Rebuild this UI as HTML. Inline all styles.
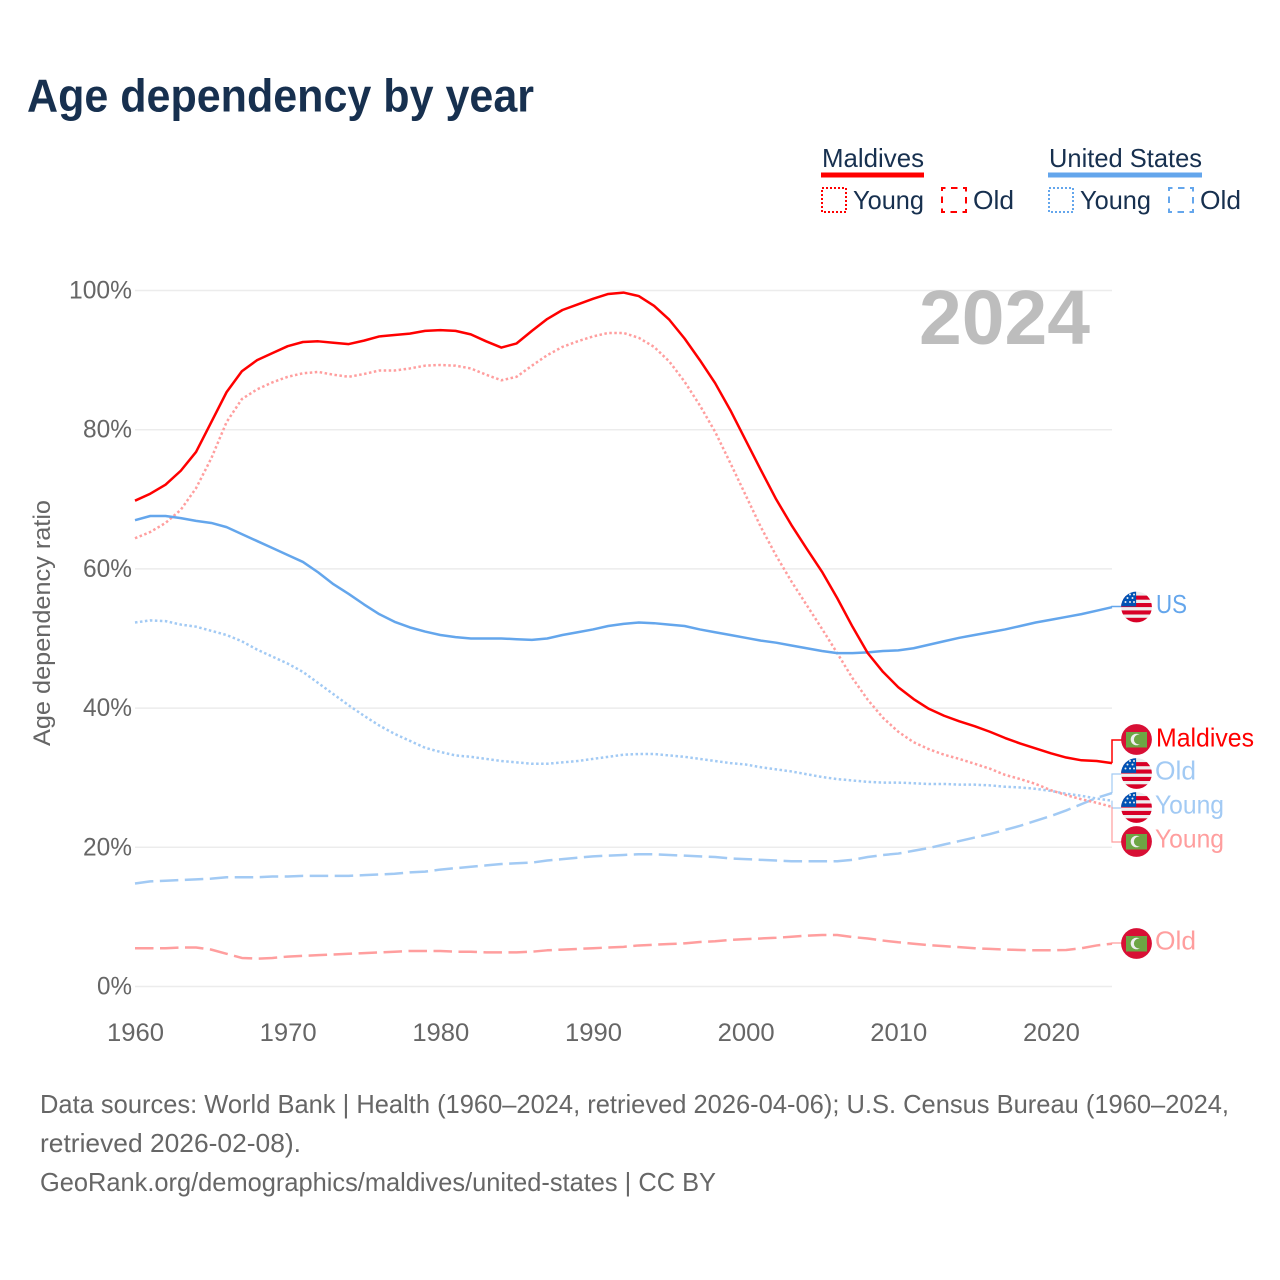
<!DOCTYPE html>
<html lang="en">
<head>
<meta charset="utf-8">
<title>Age dependency by year</title>
<style>
html,body{margin:0;padding:0;background:#fff;}
svg{display:block;font-family:"Liberation Sans",sans-serif;}
</style>
</head>
<body>
<svg id="chart" xmlns="http://www.w3.org/2000/svg" width="1280" height="1280" viewBox="0 0 1280 1280">
  <defs>
    <clipPath id="flag-clip"><circle cx="0" cy="0" r="15.4"/></clipPath>
    <g id="flag-us">
      <g clip-path="url(#flag-clip)">
        <rect x="-16" y="-16" width="32" height="32" fill="#eeeeee"/>
        <rect x="-16" y="-11.4" width="32" height="4.1" fill="#d80027"/>
        <rect x="-16" y="-4" width="32" height="4.1" fill="#d80027"/>
        <rect x="-16" y="3.4" width="32" height="4.1" fill="#d80027"/>
        <rect x="-16" y="10.8" width="32" height="4.8" fill="#d80027"/>
        <rect x="-16" y="-16" width="15.6" height="15.4" fill="#0052b4"/>
        <circle cx="-9" cy="-9" r="1" fill="#eee"/>
        <circle cx="-4" cy="-9" r="1" fill="#eee"/>
        <circle cx="-6.5" cy="-12.5" r="1" fill="#eee"/>
        <circle cx="-2.5" cy="-12.5" r="1" fill="#eee"/>
        <circle cx="-6.5" cy="-5" r="1" fill="#eee"/>
        <circle cx="-2.5" cy="-5" r="1" fill="#eee"/>
        <circle cx="-11" cy="-5" r="1" fill="#eee"/>
      </g>
    </g>
    <g id="flag-mv">
      <circle cx="0" cy="0" r="15.4" fill="#d80f35"/>
      <rect x="-10.5" y="-7.5" width="21" height="15.5" fill="#6da544"/>
      <circle cx="0" cy="0" r="5.8" fill="#eeeeee"/>
      <circle cx="2.4" cy="0" r="5" fill="#6da544"/>
    </g>
  </defs>

  <rect x="0" y="0" width="1280" height="1280" fill="#ffffff"/>

  <text x="27" y="111.5" font-size="46" font-weight="700" fill="#17304f" textLength="507" lengthAdjust="spacingAndGlyphs">Age dependency by year</text>

  <g font-size="26" fill="#17304f">
    <text x="822" y="167" textLength="102" lengthAdjust="spacingAndGlyphs">Maldives</text>
    <rect x="821" y="172.5" width="103" height="5" fill="#ff0000"/>
    <rect x="822" y="188" width="24" height="24" fill="none" stroke="#ff0000" stroke-width="2" stroke-dasharray="2 2"/>
    <text x="853" y="209" textLength="71" lengthAdjust="spacingAndGlyphs">Young</text>
    <rect x="942" y="188" width="24" height="24" fill="none" stroke="#ff0000" stroke-width="2" stroke-dasharray="6.5 5.5" stroke-dashoffset="3"/>
    <text x="973" y="209" textLength="41" lengthAdjust="spacingAndGlyphs">Old</text>

    <text x="1049" y="167" textLength="153" lengthAdjust="spacingAndGlyphs">United States</text>
    <rect x="1048" y="172.5" width="154" height="5" fill="#64a6ec"/>
    <rect x="1049" y="188" width="24" height="24" fill="none" stroke="#64a6ec" stroke-width="2" stroke-dasharray="2 2"/>
    <text x="1080" y="209" textLength="71" lengthAdjust="spacingAndGlyphs">Young</text>
    <rect x="1169" y="188" width="24" height="24" fill="none" stroke="#64a6ec" stroke-width="2" stroke-dasharray="6.5 5.5" stroke-dashoffset="3"/>
    <text x="1200" y="209" textLength="41" lengthAdjust="spacingAndGlyphs">Old</text>
  </g>

  <g id="grid"></g>
  <g id="y-ticks"></g>
  <g id="x-ticks"></g>

  <text transform="translate(50,746) rotate(-90)" font-size="24.5" fill="#666666" textLength="246" lengthAdjust="spacingAndGlyphs">Age dependency ratio</text>

  <text x="919" y="344" font-size="77" font-weight="700" fill="#bdbdbd" textLength="171" lengthAdjust="spacingAndGlyphs">2024</text>

  <g id="series"></g>
  <g id="connectors"></g>

  <g font-size="26">
    <use href="#flag-us" x="1136.5" y="607"/>
    <text x="1156" y="613" fill="#64a6ec" textLength="31" lengthAdjust="spacingAndGlyphs">US</text>
    <use href="#flag-mv" x="1136.5" y="739.5"/>
    <text x="1156" y="746.5" fill="#ff0000" textLength="98" lengthAdjust="spacingAndGlyphs">Maldives</text>
    <use href="#flag-us" x="1136.5" y="773.5"/>
    <text x="1155" y="779.5" fill="#a2caf4" textLength="41" lengthAdjust="spacingAndGlyphs">Old</text>
    <use href="#flag-us" x="1136.5" y="807.5"/>
    <text x="1155" y="813.5" fill="#a2caf4" textLength="69" lengthAdjust="spacingAndGlyphs">Young</text>
    <use href="#flag-mv" x="1136.5" y="841.5"/>
    <text x="1155" y="847.5" fill="#ff9e9e" textLength="69" lengthAdjust="spacingAndGlyphs">Young</text>
    <use href="#flag-mv" x="1136.5" y="943.5"/>
    <text x="1155" y="949.5" fill="#ff9e9e" textLength="41" lengthAdjust="spacingAndGlyphs">Old</text>
  </g>

  <g font-size="26" fill="#666666">
    <text x="40" y="1113" textLength="1189" lengthAdjust="spacingAndGlyphs">Data sources: World Bank | Health (1960–2024, retrieved 2026-04-06); U.S. Census Bureau (1960–2024,</text>
    <text x="40" y="1152" textLength="261" lengthAdjust="spacingAndGlyphs">retrieved 2026-02-08).</text>
    <text x="40" y="1191" textLength="676" lengthAdjust="spacingAndGlyphs">GeoRank.org/demographics/maldives/united-states | CC BY</text>
  </g>
</svg>

<script>
var startYear = 1960;
var endYear = 2024;
var yTickValues = [0, 20, 40, 60, 80, 100];
var xTickValues = [1960, 1970, 1980, 1990, 2000, 2010, 2020];

var maldivesTotal = [69.8,70.8,72.1,74.1,76.8,81.1,85.4,88.4,90.0,91.0,92.0,92.6,92.7,92.5,92.3,92.8,93.4,93.6,93.8,94.2,94.3,94.2,93.7,92.7,91.8,92.4,94.2,95.9,97.2,98.0,98.8,99.5,99.7,99.2,97.8,95.8,93.1,90.0,86.7,82.8,78.5,74.2,70.0,66.3,62.9,59.6,55.8,51.7,47.9,45.2,43.0,41.3,39.9,38.9,38.1,37.4,36.6,35.7,34.9,34.2,33.5,32.9,32.5,32.4,32.1];
var maldivesYoung = [64.4,65.3,66.6,68.5,71.6,75.9,81.1,84.4,85.8,86.8,87.6,88.1,88.3,87.9,87.6,88.0,88.5,88.5,88.8,89.2,89.3,89.2,88.8,87.9,87.1,87.6,89.2,90.7,91.9,92.7,93.4,93.9,93.9,93.2,91.9,89.8,86.9,83.5,79.7,75.2,70.6,66.0,61.9,58.2,54.8,51.4,47.9,44.3,41.2,38.6,36.6,35.1,34.1,33.3,32.7,32.0,31.3,30.4,29.8,29.1,28.2,27.5,26.9,26.4,25.8];
var maldivesOld = [5.5,5.5,5.5,5.6,5.6,5.3,4.7,4.1,4.0,4.1,4.3,4.4,4.5,4.6,4.7,4.8,4.9,5.0,5.1,5.1,5.1,5.0,5.0,4.9,4.9,4.9,5.0,5.2,5.3,5.4,5.5,5.6,5.7,5.9,6.0,6.1,6.2,6.4,6.5,6.7,6.8,6.9,7.0,7.15,7.3,7.4,7.4,7.1,6.9,6.6,6.35,6.15,5.95,5.8,5.65,5.5,5.4,5.3,5.25,5.2,5.2,5.25,5.5,5.9,6.15];
var usTotal = [67.0,67.6,67.6,67.3,66.9,66.6,66.0,65.0,64.0,63.0,62.0,61.0,59.5,57.8,56.4,54.9,53.5,52.4,51.6,51.0,50.5,50.2,50.0,50.0,50.0,49.9,49.8,50.0,50.5,50.9,51.3,51.8,52.1,52.3,52.2,52.0,51.8,51.3,50.9,50.5,50.1,49.7,49.4,49.0,48.6,48.2,47.9,47.9,48.0,48.2,48.3,48.6,49.1,49.6,50.1,50.5,50.9,51.3,51.8,52.3,52.7,53.1,53.5,54.0,54.5];
var usYoung = [52.3,52.6,52.5,52.0,51.7,51.1,50.5,49.6,48.4,47.4,46.4,45.2,43.6,42.0,40.4,38.9,37.5,36.3,35.3,34.3,33.7,33.2,33.0,32.7,32.4,32.2,32.0,32.0,32.2,32.4,32.7,33.0,33.3,33.4,33.4,33.2,33.0,32.7,32.4,32.1,31.9,31.5,31.2,30.9,30.5,30.1,29.8,29.6,29.4,29.3,29.3,29.2,29.1,29.1,29.0,29.0,28.9,28.7,28.6,28.4,28.1,27.7,27.4,27.0,26.7];
var usOld = [14.8,15.1,15.2,15.3,15.4,15.5,15.7,15.7,15.7,15.8,15.8,15.9,15.9,15.9,15.9,16.0,16.1,16.2,16.4,16.5,16.8,17.0,17.2,17.4,17.6,17.7,17.8,18.1,18.3,18.5,18.7,18.8,18.9,19.0,19.0,18.9,18.8,18.7,18.6,18.4,18.3,18.2,18.1,18.0,18.0,18.0,18.0,18.2,18.6,18.9,19.1,19.5,19.9,20.4,20.9,21.4,21.9,22.5,23.1,23.8,24.5,25.3,26.2,27.1,27.8];

var NS = 'http://www.w3.org/2000/svg';

function xScale(year) {
  return 135 + (year - startYear) * (1112 - 135) / (endYear - startYear);
}
function yScale(value) {
  return 986.5 - value * 6.96;
}
function linePoints(values) {
  var pts = [];
  for (var i = 0; i < values.length; i++) {
    pts.push(xScale(startYear + i).toFixed(2) + ',' + yScale(values[i]).toFixed(2));
  }
  return pts.join(' ');
}
function lastOf(values) {
  return values[values.length - 1];
}

var gridGroup = document.getElementById('grid');
var yTickGroup = document.getElementById('y-ticks');
yTickValues.forEach(function (v) {
  var line = document.createElementNS(NS, 'line');
  
  
  line.setAttribute('x1', xScale(startYear));
  line.setAttribute('x2', xScale(endYear));
  line.setAttribute('y1', yScale(v));
  line.setAttribute('y2', yScale(v));
  line.setAttribute('stroke', '#ececec');
  line.setAttribute('stroke-width', '1.5');
  gridGroup.appendChild(line);

  var label = document.createElementNS(NS, 'text');
  
  
  var str = v + '%';
  label.textContent = str;
  var w = 21 + (str.length - 1) * 14;
  label.setAttribute('x', 132 - w);
  label.setAttribute('y', yScale(v) + 8);
  label.setAttribute('font-size', '25');
  label.setAttribute('fill', '#666666');
  label.setAttribute('textLength', w);
  label.setAttribute('lengthAdjust', 'spacingAndGlyphs');
  yTickGroup.appendChild(label);
});

var xTickGroup = document.getElementById('x-ticks');
xTickValues.forEach(function (year) {
  var label = document.createElementNS(NS, 'text');
  
  
  label.textContent = String(year);
  label.setAttribute('x', xScale(year) - 28);
  label.setAttribute('y', 1041);
  label.setAttribute('font-size', '25');
  label.setAttribute('fill', '#666666');
  label.setAttribute('textLength', '57');
  label.setAttribute('lengthAdjust', 'spacingAndGlyphs');
  xTickGroup.appendChild(label);
});

var seriesGroup = document.getElementById('series');
function drawSeries(values, name, color, dash) {
  var line = document.createElementNS(NS, 'polyline');
  
  
  line.setAttribute('points', linePoints(values));
  line.setAttribute('fill', 'none');
  line.setAttribute('stroke', color);
  line.setAttribute('stroke-width', '2.5');
  line.setAttribute('stroke-linejoin', 'round');
  if (dash) {
    line.setAttribute('stroke-dasharray', dash);
  }
  seriesGroup.appendChild(line);
}
drawSeries(usOld, 'line-us-old', '#a2caf4', '18.5 6.5');
drawSeries(maldivesOld, 'line-maldives-old', '#ff9e9e', '18.5 6.5');
drawSeries(usYoung, 'line-us-young', '#a2caf4', '2.5 2.5');
drawSeries(maldivesYoung, 'line-maldives-young', '#ff9e9e', '2.5 2.5');
drawSeries(usTotal, 'line-us-total', '#64a6ec', '');
drawSeries(maldivesTotal, 'line-maldives-total', '#ff0000', '');

var connectorGroup = document.getElementById('connectors');
function drawConnector(value, labelY, name, color, width) {
  var path = document.createElementNS(NS, 'polyline');
  
  
  var ex = xScale(endYear);
  var ey = yScale(value);
  path.setAttribute('points', ex + ',' + ey + ' ' + ex + ',' + labelY + ' 1122,' + labelY);
  path.setAttribute('fill', 'none');
  path.setAttribute('stroke', color);
  path.setAttribute('stroke-width', width);
  connectorGroup.appendChild(path);
}
drawConnector(lastOf(usTotal), 606.5, 'connector-us-total', '#64a6ec', '1.5');
drawConnector(lastOf(maldivesTotal), 740, 'connector-maldives-total', '#ff0000', '1.5');
drawConnector(lastOf(usOld), 774, 'connector-us-old', '#a2caf4', '1.2');
drawConnector(lastOf(usYoung), 808, 'connector-us-young', '#a2caf4', '1.2');
drawConnector(lastOf(maldivesYoung), 842, 'connector-maldives-young', '#ff9e9e', '1.2');
drawConnector(lastOf(maldivesOld), 943, 'connector-maldives-old', '#ff9e9e', '1.2');
</script>
</body>
</html>
